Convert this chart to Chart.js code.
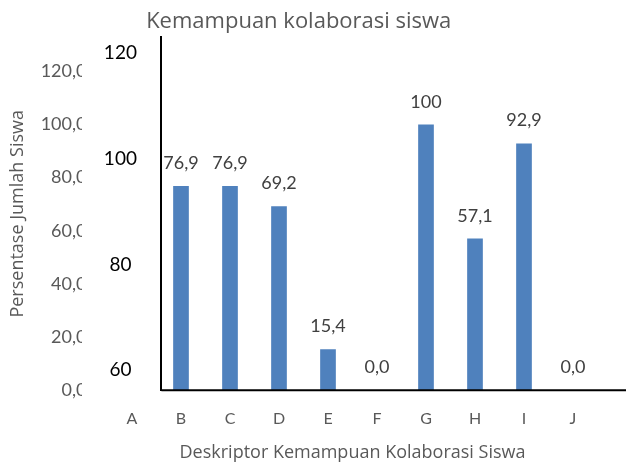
<!DOCTYPE html>
<html>
<head>
<meta charset="utf-8">
<script src="https://cdn.jsdelivr.net/npm/chart.js@4"></script>
<style>
  html, body { margin: 0; padding: 0; background: #fff; }
  #wrap { width: 626px; height: 463px; }
</style>
</head>
<body>
<div id="wrap"><canvas id="kolaborasi"></canvas></div>
<script>
// data
var categories = ["A", "B", "C", "D", "E", "F", "G", "H", "I", "J"];
var persen = [null, 76.9, 76.9, 69.2, 15.4, 0, 100, 57.1, 92.9, 0];

// the two left scales (outer grey one, inner black one)
var outerMin = 0, outerMax = 132.8;
var innerMin = 56.2, innerMax = 123;
var tickStep = 20;
var innerAxisAt = 0.6; // between A and B, in category units

var FONT = "Lato, 'Open Sans', sans-serif";
var WIDE = "'Open Sans', sans-serif";

function fmtValue(v) {
    if (Number.isInteger(v) && v !== 0) return String(v);
    return v.toFixed(1).replace(".", ",");
}

var extras = {
    id: "extras",
    afterDatasetsDraw: function (chart) {
        var ctx = chart.ctx;
        var sx = chart.scales.x, sy = chart.scales.y, s2 = chart.scales.y2;
        var x0 = sx.getPixelForValue(innerAxisAt);
        var y0 = sy.getPixelForValue(0);
        ctx.save();
        // horizontal axis line, runs from the inner axis to the edge
        ctx.strokeStyle = "#000";
        ctx.lineWidth = 2;
        ctx.beginPath();
        ctx.moveTo(x0, y0);
        ctx.lineTo(chart.width, y0);
        ctx.stroke();
        // value labels over the bars
        ctx.fillStyle = "#404040";
        ctx.font = "18px " + FONT;
        ctx.textAlign = "center";
        ctx.textBaseline = "alphabetic";
        chart.getDatasetMeta(0).data.forEach(function (bar, i) {
            var v = persen[i];
            if (v === null) return;
            ctx.fillText(fmtValue(v), bar.x, bar.y - 17);
        });
        // tick labels of the inner axis, centred a bit left of its line
        ctx.fillStyle = "#000";
        ctx.font = "19px " + FONT;
        ctx.textBaseline = "middle";
        s2.ticks.forEach(function (t) {
            ctx.fillText(String(t.value), x0 - 41, s2.getPixelForValue(t.value));
        });
        ctx.restore();
    },
    afterDraw: function (chart) {
        // the grey tick labels are cut off on the right
        var ctx = chart.ctx;
        ctx.save();
        ctx.fillStyle = "#fff";
        ctx.fillRect(82, 50, 18, 360);
        ctx.restore();
    }
};

var ctx = document.getElementById("kolaborasi").getContext("2d");
var chart = new Chart(ctx, {
    type: "bar",
    data: {
        labels: categories,
        datasets: [{
            label: "Persentase",
            data: persen,
            backgroundColor: "#4F81BD",
            barPercentage: 0.32,
            categoryPercentage: 1,
            yAxisID: "y"
        }]
    },
    options: {
        responsive: true,
        maintainAspectRatio: false,
        animation: false,
        layout: { padding: { left: 0, right: 28.5, top: 0, bottom: 0 } },
        plugins: {
            legend: { display: false },
            tooltip: { enabled: false },
            title: {
                display: true,
                text: "Kemampuan kolaborasi siswa",
                color: "#595959",
                font: { family: WIDE, size: 22, weight: "normal" },
                padding: { top: 9, bottom: 2 }
            }
        },
        scales: {
            x: {
                type: "category",
                offset: true,
                grid: { display: false, drawTicks: false },
                border: { display: false },
                ticks: { color: "#595959", font: { family: FONT, size: 16 }, padding: 19 },
                title: {
                    display: true,
                    text: "Deskriptor Kemampuan Kolaborasi Siswa",
                    color: "#595959",
                    font: { family: WIDE, size: 18 },
                    padding: { top: -5, bottom: -1 }
                }
            },
            y: {
                position: "left",
                min: outerMin,
                max: outerMax,
                grid: { display: false, drawTicks: false },
                border: { display: false },
                ticks: {
                    stepSize: tickStep,
                    includeBounds: false,
                    color: "#595959",
                    font: { family: FONT, size: 18 },
                    padding: 21,
                    callback: function (v) { return v.toFixed(1).replace(".", ","); }
                },
                title: {
                    display: true,
                    text: "Persentase Jumlah Siswa",
                    color: "#595959",
                    font: { family: WIDE, size: 18 },
                    padding: { top: 7, bottom: 0 }
                },
                afterFit: function (scale) { scale.width = 107.5; }
            },
            y2: {
                position: { x: innerAxisAt },
                min: innerMin,
                max: innerMax,
                grid: { display: false, drawTicks: false },
                border: { display: true, color: "#000", width: 2 },
                ticks: { stepSize: tickStep, includeBounds: false, display: false }
            }
        }
    },
    plugins: [extras]
});
</script>
</body>
</html>
